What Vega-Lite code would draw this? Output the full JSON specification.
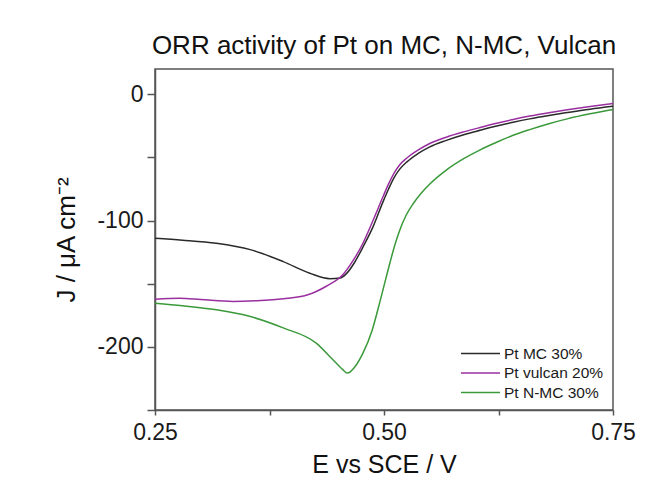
{
  "$schema": "https://vega.github.io/schema/vega-lite/v6.json",
  "autosize": "none",
  "width": 458,
  "height": 341,
  "padding": {"left": 155, "top": 69, "right": 48, "bottom": 73},
  "background": "white",
  "config": {
    "font": "Liberation Sans",
    "view": {"stroke": "#555555", "strokeWidth": 1.5}
  },
  "title": {
    "text": "ORR activity of Pt on MC, N-MC, Vulcan",
    "fontSize": 26,
    "fontWeight": "normal",
    "color": "#111111",
    "anchor": "middle",
    "offset": 10
  },
  "data": {
    "values": [
      {"E": 0.25, "J": -114, "s": "Pt MC 30%"},
      {"E": 0.28, "J": -115.5, "s": "Pt MC 30%"},
      {"E": 0.317, "J": -118, "s": "Pt MC 30%"},
      {"E": 0.354, "J": -123, "s": "Pt MC 30%"},
      {"E": 0.39, "J": -132.5, "s": "Pt MC 30%"},
      {"E": 0.419, "J": -141.7, "s": "Pt MC 30%"},
      {"E": 0.441, "J": -146, "s": "Pt MC 30%"},
      {"E": 0.452, "J": -145.5, "s": "Pt MC 30%"},
      {"E": 0.459, "J": -142, "s": "Pt MC 30%"},
      {"E": 0.468, "J": -133, "s": "Pt MC 30%"},
      {"E": 0.477, "J": -121, "s": "Pt MC 30%"},
      {"E": 0.488, "J": -105, "s": "Pt MC 30%"},
      {"E": 0.499, "J": -85, "s": "Pt MC 30%"},
      {"E": 0.505, "J": -75, "s": "Pt MC 30%"},
      {"E": 0.511, "J": -66, "s": "Pt MC 30%"},
      {"E": 0.517, "J": -59.5, "s": "Pt MC 30%"},
      {"E": 0.525, "J": -53.5, "s": "Pt MC 30%"},
      {"E": 0.537, "J": -47, "s": "Pt MC 30%"},
      {"E": 0.55, "J": -41.6, "s": "Pt MC 30%"},
      {"E": 0.568, "J": -36.5, "s": "Pt MC 30%"},
      {"E": 0.587, "J": -32, "s": "Pt MC 30%"},
      {"E": 0.605, "J": -28.5, "s": "Pt MC 30%"},
      {"E": 0.623, "J": -25.2, "s": "Pt MC 30%"},
      {"E": 0.641, "J": -22.2, "s": "Pt MC 30%"},
      {"E": 0.659, "J": -19.5, "s": "Pt MC 30%"},
      {"E": 0.68, "J": -16.8, "s": "Pt MC 30%"},
      {"E": 0.7, "J": -14.5, "s": "Pt MC 30%"},
      {"E": 0.725, "J": -11.8, "s": "Pt MC 30%"},
      {"E": 0.75, "J": -9.5, "s": "Pt MC 30%"},
      {"E": 0.25, "J": -162.3, "s": "Pt vulcan 20%"},
      {"E": 0.277, "J": -161.5, "s": "Pt vulcan 20%"},
      {"E": 0.3, "J": -162.5, "s": "Pt vulcan 20%"},
      {"E": 0.335, "J": -164, "s": "Pt vulcan 20%"},
      {"E": 0.36, "J": -163.5, "s": "Pt vulcan 20%"},
      {"E": 0.39, "J": -162, "s": "Pt vulcan 20%"},
      {"E": 0.416, "J": -159, "s": "Pt vulcan 20%"},
      {"E": 0.437, "J": -152, "s": "Pt vulcan 20%"},
      {"E": 0.455, "J": -143, "s": "Pt vulcan 20%"},
      {"E": 0.466, "J": -132, "s": "Pt vulcan 20%"},
      {"E": 0.477, "J": -118, "s": "Pt vulcan 20%"},
      {"E": 0.488, "J": -100, "s": "Pt vulcan 20%"},
      {"E": 0.499, "J": -81, "s": "Pt vulcan 20%"},
      {"E": 0.505, "J": -71, "s": "Pt vulcan 20%"},
      {"E": 0.511, "J": -62.5, "s": "Pt vulcan 20%"},
      {"E": 0.517, "J": -56, "s": "Pt vulcan 20%"},
      {"E": 0.525, "J": -50.5, "s": "Pt vulcan 20%"},
      {"E": 0.537, "J": -44.3, "s": "Pt vulcan 20%"},
      {"E": 0.55, "J": -39, "s": "Pt vulcan 20%"},
      {"E": 0.568, "J": -34, "s": "Pt vulcan 20%"},
      {"E": 0.587, "J": -29.8, "s": "Pt vulcan 20%"},
      {"E": 0.605, "J": -26.3, "s": "Pt vulcan 20%"},
      {"E": 0.623, "J": -23, "s": "Pt vulcan 20%"},
      {"E": 0.641, "J": -20, "s": "Pt vulcan 20%"},
      {"E": 0.659, "J": -17.3, "s": "Pt vulcan 20%"},
      {"E": 0.68, "J": -14.6, "s": "Pt vulcan 20%"},
      {"E": 0.7, "J": -12.3, "s": "Pt vulcan 20%"},
      {"E": 0.725, "J": -9.7, "s": "Pt vulcan 20%"},
      {"E": 0.75, "J": -7.4, "s": "Pt vulcan 20%"},
      {"E": 0.25, "J": -165.5, "s": "Pt N-MC 30%"},
      {"E": 0.28, "J": -167.5, "s": "Pt N-MC 30%"},
      {"E": 0.317, "J": -170.7, "s": "Pt N-MC 30%"},
      {"E": 0.354, "J": -176, "s": "Pt N-MC 30%"},
      {"E": 0.39, "J": -185, "s": "Pt N-MC 30%"},
      {"E": 0.426, "J": -197, "s": "Pt N-MC 30%"},
      {"E": 0.444, "J": -210, "s": "Pt N-MC 30%"},
      {"E": 0.455, "J": -218, "s": "Pt N-MC 30%"},
      {"E": 0.46, "J": -220.8, "s": "Pt N-MC 30%"},
      {"E": 0.468, "J": -216, "s": "Pt N-MC 30%"},
      {"E": 0.477, "J": -205, "s": "Pt N-MC 30%"},
      {"E": 0.487, "J": -187, "s": "Pt N-MC 30%"},
      {"E": 0.496, "J": -163, "s": "Pt N-MC 30%"},
      {"E": 0.502, "J": -146, "s": "Pt N-MC 30%"},
      {"E": 0.507, "J": -132, "s": "Pt N-MC 30%"},
      {"E": 0.512, "J": -119, "s": "Pt N-MC 30%"},
      {"E": 0.517, "J": -108, "s": "Pt N-MC 30%"},
      {"E": 0.524, "J": -96, "s": "Pt N-MC 30%"},
      {"E": 0.532, "J": -86.5, "s": "Pt N-MC 30%"},
      {"E": 0.541, "J": -78, "s": "Pt N-MC 30%"},
      {"E": 0.55, "J": -71, "s": "Pt N-MC 30%"},
      {"E": 0.568, "J": -60, "s": "Pt N-MC 30%"},
      {"E": 0.587, "J": -51, "s": "Pt N-MC 30%"},
      {"E": 0.605, "J": -44, "s": "Pt N-MC 30%"},
      {"E": 0.623, "J": -38, "s": "Pt N-MC 30%"},
      {"E": 0.641, "J": -32.5, "s": "Pt N-MC 30%"},
      {"E": 0.659, "J": -28, "s": "Pt N-MC 30%"},
      {"E": 0.68, "J": -23.3, "s": "Pt N-MC 30%"},
      {"E": 0.7, "J": -19.5, "s": "Pt N-MC 30%"},
      {"E": 0.725, "J": -15.5, "s": "Pt N-MC 30%"},
      {"E": 0.75, "J": -12.1, "s": "Pt N-MC 30%"}
    ]
  },
  "mark": {"type": "line", "strokeWidth": 1.5, "interpolate": "monotone"},
  "encoding": {
    "x": {
      "field": "E",
      "type": "quantitative",
      "scale": {"domain": [0.25, 0.75], "nice": false, "zero": false},
      "axis": {
        "title": "E vs SCE / V",
        "values": [0.25, 0.375, 0.5, 0.625, 0.75],
        "labelExpr": "abs(datum.value*4 - round(datum.value*4)) < 0.001 ? format(datum.value, '.2f') : ''",
        "labelFontSize": 23,
        "labelColor": "#1a1a1a",
        "labelPadding": 6,
        "labelFlush": false,
        "labelOverlap": false,
        "titleFontSize": 25,
        "titleFontWeight": "normal",
        "titleColor": "#111111",
        "titlePadding": 8,
        "grid": false,
        "domainColor": "#555555",
        "domainWidth": 1.5,
        "tickColor": "#555555",
        "tickWidth": 1.5,
        "tickSize": 5,
        "encode": {"ticks": {"update": {"y2": {"signal": "abs(datum.value*4 - round(datum.value*4)) < 0.001 ? 5 : 3"}}}}
      }
    },
    "y": {
      "field": "J",
      "type": "quantitative",
      "scale": {"domain": [-250, 20], "nice": false, "zero": false},
      "axis": {
        "title": "J / μA cm⁻²",
        "values": [0, -50, -100, -150, -200, -250],
        "labelExpr": "abs(datum.value % 100) < 0.001 ? toString(datum.value) : ''",
        "labelFontSize": 23,
        "labelColor": "#1a1a1a",
        "labelPadding": 4,
        "labelOverlap": false,
        "titleFontSize": 26,
        "titleFontWeight": "normal",
        "titleColor": "#111111",
        "titlePadding": 17,
        "grid": false,
        "domainColor": "#555555",
        "domainWidth": 1.5,
        "tickColor": "#555555",
        "tickWidth": 1.5,
        "tickSize": 8,
        "encode": {"ticks": {"update": {"x2": {"signal": "abs(datum.value % 100) < 0.001 ? -8 : -5"}}}}
      }
    },
    "color": {
      "field": "s",
      "type": "nominal",
      "scale": {
        "domain": ["Pt MC 30%", "Pt vulcan 20%", "Pt N-MC 30%"],
        "range": ["#2a2a2a", "#9a2fa0", "#3a9a3a"]
      },
      "legend": {
        "title": null,
        "orient": "none",
        "legendX": 305,
        "legendY": 276,
        "symbolType": "M-1,0H4.2",
        "symbolSize": 225,
        "symbolStrokeWidth": 1.5,
        "symbolFillColor": "transparent",
        "labelFontSize": 15.5,
        "labelColor": "#1a1a1a",
        "labelOffset": 27,
        "rowPadding": 2.5
      }
    }
  }
}
